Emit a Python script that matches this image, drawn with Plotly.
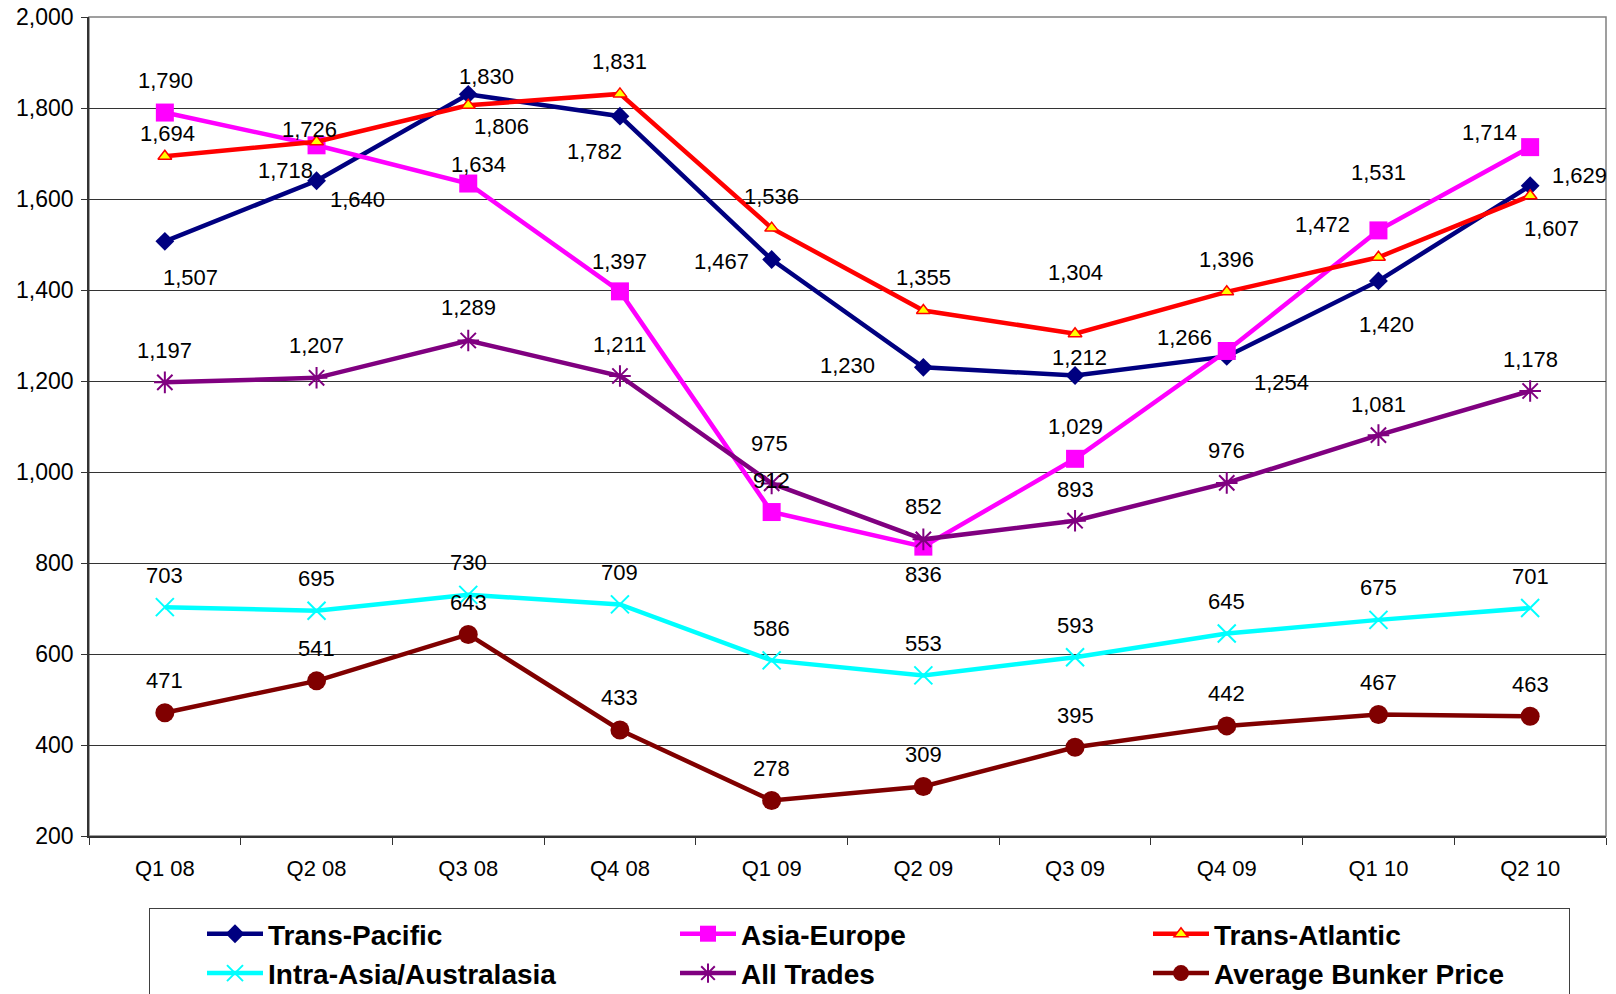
import plotly.graph_objects as go

quarters = ["Q1 08", "Q2 08", "Q3 08", "Q4 08", "Q1 09", "Q2 09", "Q3 09", "Q4 09", "Q1 10", "Q2 10"]

trans_pacific = [1507, 1640, 1830, 1782, 1467, 1230, 1212, 1254, 1420, 1629]
asia_europe = [1790, 1718, 1634, 1397, 912, 836, 1029, 1266, 1531, 1714]
trans_atlantic = [1694, 1726, 1806, 1831, 1536, 1355, 1304, 1396, 1472, 1607]
intra_asia = [703, 695, 730, 709, 586, 553, 593, 645, 675, 701]
all_trades = [1197, 1207, 1289, 1211, 975, 852, 893, 976, 1081, 1178]
bunker = [471, 541, 643, 433, 278, 309, 395, 442, 467, 463]

# label offsets in pixels (dx right, dy up)
tp_dx = [26, 41, 18, -25, -50, -76, 4, 55, 8, 49]
tp_dy = [-36, -19, 18, -35, -2, 2, 18, -26, -44, 10]
ae_dx = [1, -31, 10, 0, 0, 0, 0, -42, 0, -41]
ae_dy = [32, -25, 19, 30, 32, -28, 32, 13, 58, 15]
ta_dx = [3, -7, 33, 0, 0, 0, 0, 0, -56, 21]
ta_dy = [23, 12, -21, 32, 32, 33, 61, 32, 33, -33]
at_dx = [0, 0, 0, 0, -2, 0, 0, 0, 0, 0]
at_dy = [32, 32, 33, 32, 40, 33, 31, 32, 31, 32]
ia_dx = [0] * 10
ia_dy = [32] * 10
bk_dx = [0] * 10
bk_dy = [32] * 10

FONT = "Liberation Sans, Arial, sans-serif"

series = [
    ("Trans-Pacific", trans_pacific, dict(color="#000080", width=4.5),
     dict(symbol="diamond", size=14.5, color="#000080"), tp_dx, tp_dy),
    ("Asia-Europe", asia_europe, dict(color="#FF00FF", width=4.5),
     dict(symbol="square", size=18, color="#FF00FF"), ae_dx, ae_dy),
    ("Trans-Atlantic", trans_atlantic, dict(color="#FF0000", width=4.5),
     dict(symbol="triangle-up", size=12, color="#FFFF00", line=dict(color="#FF0000", width=1.5)), ta_dx, ta_dy),
    ("Intra-Asia/Australasia", intra_asia, dict(color="#00FFFF", width=4.5),
     dict(symbol="x-thin-open", size=18, color="#00FFFF", line=dict(color="#00FFFF", width=2)), ia_dx, ia_dy),
    ("All Trades", all_trades, dict(color="#800080", width=4.5),
     dict(symbol="asterisk-open", size=18, color="#800080", line=dict(color="#800080", width=2)), at_dx, at_dy),
    ("Average Bunker Price", bunker, dict(color="#800000", width=4.5),
     dict(symbol="circle", size=19, color="#800000"), bk_dx, bk_dy),
]

fig = go.Figure()
annotations = []
for name, vals, line, marker, dxs, dys in series:
    fig.add_trace(go.Scatter(x=quarters, y=vals, name=name, mode="lines+markers",
                             line=line, marker=marker))
    for q, v, dx, dy in zip(quarters, vals, dxs, dys):
        annotations.append(dict(x=q, y=v, xref="x", yref="y", text=f"{v:,}",
                                showarrow=False, xshift=dx, yshift=dy,
                                font=dict(family=FONT, size=22, color="black")))

fig.update_layout(
    width=1616, height=994,
    margin=dict(l=89, r=10, t=17, b=158, autoexpand=False),
    paper_bgcolor="white", plot_bgcolor="white",
    font=dict(family=FONT, size=22, color="black"),
    annotations=annotations,
    showlegend=True,
    legend=dict(orientation="h", xref="container", yref="container",
                x=149 / 1616, y=1 - 908 / 994, xanchor="left", yanchor="top",
                bordercolor="#404040", borderwidth=1,
                entrywidth=350, itemwidth=56, indentation=52,
                font=dict(family="Liberation Sans, Arial, sans-serif",
                          size=28, color="black", weight="bold")),
    shapes=[dict(type="rect", xref="paper", yref="paper", x0=0, x1=1, y0=0, y1=1,
                 line=dict(color="#808080", width=1.5), layer="below")],
)

fig.update_xaxes(type="category", range=[-0.5, 9.5], showline=True, linecolor="#333333", linewidth=1.5,
                 ticks="outside", tickson="boundaries", ticklen=7, tickcolor="#333333",
                 ticklabelstandoff=12, automargin=False,
                 showgrid=False, zeroline=False,
                 tickfont=dict(family=FONT, size=22, color="black"))
fig.update_yaxes(range=[200, 2000], dtick=200, tickformat=",", showline=True, linecolor="#333333",
                 linewidth=1.5, ticks="outside", ticklen=6, tickcolor="#333333",
                 ticklabelstandoff=3, automargin=False,
                 showgrid=True, gridcolor="#333333", gridwidth=1, zeroline=False,
                 tickfont=dict(family=FONT, size=23, color="black"))

fig.write_html("out.html")
